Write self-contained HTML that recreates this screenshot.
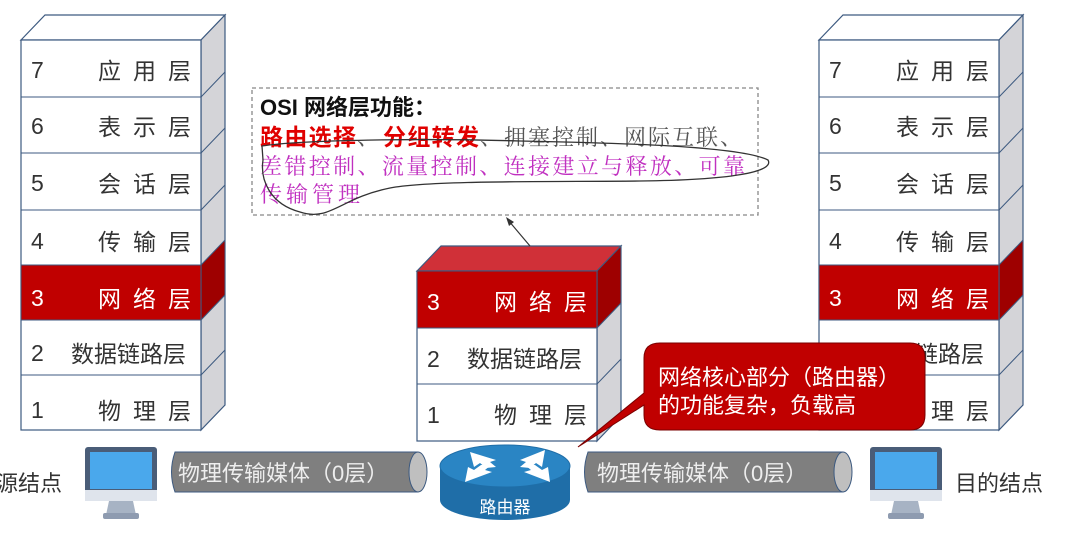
<!DOCTYPE html>
<html><head><meta charset="utf-8"><style>
html,body{margin:0;padding:0;background:#fff;}
svg{display:block;font-family:"Liberation Sans","Noto Sans CJK SC",sans-serif;}
.serif{font-family:"Liberation Serif","Noto Serif CJK SC",serif;}
</style></head><body>
<svg width="1074" height="535" viewBox="0 0 1074 535" xmlns="http://www.w3.org/2000/svg">
<defs>
<g id="stack">
  <polygon points="0,25 24,0 204,0 180,25" fill="#fff" stroke="#3d5a80" stroke-width="1.2"/>
  <polygon points="180,25 204,0 204,390 180,415" fill="#d4d4d8" stroke="#3d5a80" stroke-width="1.2"/>
  <polygon points="180,250 204,225 204,280 180,305" fill="#9e0000" stroke="#3d5a80" stroke-width="1"/>
  <line x1="180" y1="82" x2="204" y2="57" stroke="#3d5a80"/>
  <line x1="180" y1="138" x2="204" y2="113" stroke="#3d5a80"/>
  <line x1="180" y1="195" x2="204" y2="170" stroke="#3d5a80"/>
  <line x1="180" y1="360" x2="204" y2="335" stroke="#3d5a80"/>
  <rect x="0" y="25" width="180" height="390" fill="#fff" stroke="#3d5a80" stroke-width="1.2"/>
  <rect x="0" y="250" width="180" height="55" fill="#c00000" stroke="#3d5a80" stroke-width="1"/>
  <g stroke="#3d5a80" stroke-width="1"><line x1="0" y1="82" x2="180" y2="82"/><line x1="0" y1="138" x2="180" y2="138"/><line x1="0" y1="195" x2="180" y2="195"/><line x1="0" y1="360" x2="180" y2="360"/></g>
  <g font-size="23" fill="#333">
    <text x="10" y="63">7</text><text x="77" y="64" letter-spacing="12">应用层</text>
    <text x="10" y="119">6</text><text x="77" y="120" letter-spacing="12">表示层</text>
    <text x="10" y="176">5</text><text x="77" y="177" letter-spacing="12">会话层</text>
    <text x="10" y="234">4</text><text x="77" y="235" letter-spacing="12">传输层</text>
    <text x="10" y="291" fill="#fff">3</text><text x="77" y="292" fill="#fff" letter-spacing="12">网络层</text>
    <text x="10" y="346">2</text><text x="50" y="347">数据链路层</text>
    <text x="10" y="403">1</text><text x="77" y="404" letter-spacing="12">物理层</text>
  </g>
</g>
<g id="mon">
  <rect x="0" y="0" width="72" height="54" rx="3" fill="#4a5d78"/>
  <rect x="5" y="5" width="62" height="37" fill="#4aa8ec"/>
  <rect x="0" y="43" width="72" height="11" fill="#dfe4ec"/>
  <polygon points="24,54 48,54 51,68 21,68" fill="#a7b3c4"/>
  <rect x="18" y="66" width="36" height="6" rx="2" fill="#8e9bb0"/>
</g>
</defs>

<use href="#stack" x="21" y="15"/>
<use href="#stack" x="819" y="15"/>

<g transform="translate(417,246)">
  <polygon points="0,25 24,0 204,0 180,25" fill="#d03038" stroke="#3d5a80" stroke-width="1.2"/>
  <polygon points="180,25 204,0 204,170 180,195" fill="#d4d4d8" stroke="#3d5a80" stroke-width="1.2"/>
  <polygon points="180,25 204,0 204,57 180,82" fill="#9e0000" stroke="#3d5a80" stroke-width="1"/>
  <line x1="180" y1="138" x2="204" y2="113" stroke="#3d5a80"/>
  <rect x="0" y="25" width="180" height="170" fill="#fff" stroke="#3d5a80" stroke-width="1.2"/>
  <rect x="0" y="25" width="180" height="57" fill="#c00000" stroke="#3d5a80" stroke-width="1"/>
  <line x1="0" y1="138" x2="180" y2="138" stroke="#3d5a80"/>
  <g font-size="23" fill="#333">
    <text x="10" y="64" fill="#fff">3</text><text x="77" y="64" fill="#fff" letter-spacing="12">网络层</text>
    <text x="10" y="121">2</text><text x="50" y="121">数据链路层</text>
    <text x="10" y="177">1</text><text x="77" y="177" letter-spacing="12">物理层</text>
  </g>
</g>

<rect x="252" y="88" width="506" height="127" fill="none" stroke="#888" stroke-width="1.3" stroke-dasharray="4,3"/>
<text x="260" y="115" font-size="22" font-weight="bold" fill="#111">OSI 网络层功能：</text>
<text x="260" y="145" font-size="23" fill="#e00000" font-weight="bold" textLength="96" lengthAdjust="spacing">路由选择</text>
<text class="serif" x="357" y="145" font-size="22" fill="#555">、</text>
<text x="383" y="145" font-size="23" fill="#e00000" font-weight="bold" textLength="96" lengthAdjust="spacing">分组转发</text>
<text class="serif" x="480" y="145" font-size="22" fill="#555" textLength="262" lengthAdjust="spacing">、拥塞控制、网际互联、</text>
<text class="serif" x="260" y="174" font-size="22" fill="#c030c0" textLength="485" lengthAdjust="spacing">差错控制、流量控制、连接建立与释放、可靠</text>
<text class="serif" x="260" y="202" font-size="22" fill="#c030c0" textLength="100" lengthAdjust="spacing">传输管理</text>
<path d="M262,146 C300,140 420,138 520,141 C620,143 740,146 768,160 C775,172 730,180 640,181 C560,182 430,180 390,188 C340,198 330,222 300,212 C270,204 260,180 263,160 Z" fill="none" stroke="#333" stroke-width="1.3"/>
<line x1="530" y1="246" x2="508" y2="220" stroke="#333" stroke-width="1.2"/>
<polygon points="506,217 514,222 509,226" fill="#333"/>

<path d="M660,343 H910 Q925,343 925,358 V415 Q925,430 910,430 H660 Q644,430 644,415 V405 L578,447 L644,393 V358 Q644,343 660,343 Z" fill="#c00000" stroke="#7a0000" stroke-width="1"/>
<text x="658" y="385" font-size="22" fill="#fff">网络核心部分（路由器）</text>
<text x="658" y="413" font-size="22" fill="#fff">的功能复杂，负载高</text>

<g>
  <path d="M175,452 H418 V492 H175 Q168,472 175,452 Z" fill="#7f7f7f" stroke="#3d5a80"/>
  <ellipse cx="418" cy="472" rx="9" ry="20" fill="#bfbfbf" stroke="#3d5a80"/>
  <text x="178" y="481" font-size="22" fill="#eee">物理传输媒体（0层）</text>
</g>
<g>
  <path d="M588,452 H843 V492 H588 Q581,472 588,452 Z" fill="#7f7f7f" stroke="#3d5a80"/>
  <ellipse cx="843" cy="472" rx="9" ry="20" fill="#bfbfbf" stroke="#3d5a80"/>
  <text x="597" y="481" font-size="22" fill="#eee">物理传输媒体（0层）</text>
</g>

<g>
  <path d="M440,466 V500 A65,20 0 0 0 570,500 V466 Z" fill="#1f6ea8"/>
  <ellipse cx="505" cy="466" rx="65" ry="21" fill="#2a85c4" stroke="#1f6ea8"/>
  <g fill="#fff">
    <polygon points="470,452 496,460 490,462 496,467 486,468 480,463 474,467"/>
    <polygon points="545,450 520,460 526,462 520,467 530,468 536,463 542,467"/>
    <polygon points="465,482 492,472 485,470 491,465 481,465 474,470 468,467"/>
    <polygon points="550,482 524,472 531,470 525,465 535,465 542,470 548,467"/>
  </g>
  <text x="505" y="513" font-size="17" fill="#fff" text-anchor="middle">路由器</text>
</g>

<use href="#mon" x="85" y="447"/>
<use href="#mon" x="870" y="447"/>
<text x="-4" y="491" font-size="22" fill="#333">源结点</text>
<text x="955" y="491" font-size="22" fill="#333">目的结点</text>
</svg>
</body></html>
